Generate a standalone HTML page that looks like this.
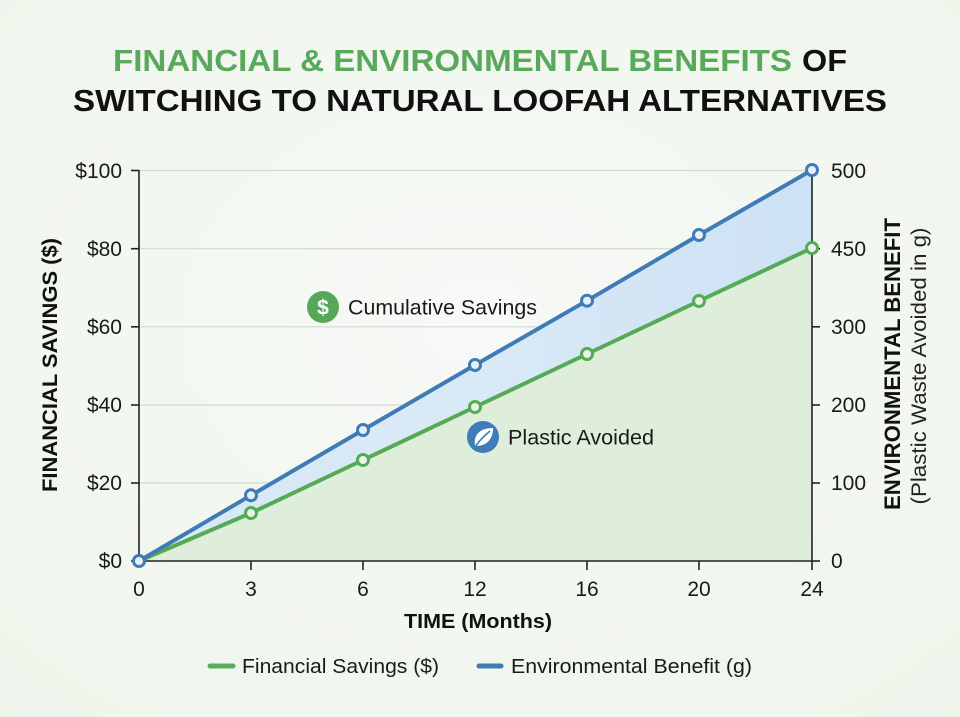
<!DOCTYPE html>
<html>
<head>
<meta charset="utf-8">
<style>
  html,body{margin:0;padding:0;background:#f4f8f2;}
  svg{display:block;}
  text{font-family:"Liberation Sans",Arial,sans-serif;}
</style>
</head>
<body>
<svg width="960" height="717" viewBox="0 0 960 717" xmlns="http://www.w3.org/2000/svg">
  <defs>
    <radialGradient id="bg" cx="50%" cy="45%" r="75%">
      <stop offset="0" stop-color="#f7f9f6"/>
      <stop offset="1" stop-color="#eef5eb"/>
    </radialGradient>
    <linearGradient id="bluefill" x1="0" y1="0" x2="1" y2="0">
      <stop offset="0" stop-color="#d8e8f5"/>
      <stop offset="0.5" stop-color="#d9e9f6"/>
      <stop offset="1" stop-color="#cde2f5"/>
    </linearGradient>
  </defs>
  <rect x="0" y="0" width="960" height="717" fill="url(#bg)"/>

  <!-- Title -->
  <text x="113" y="71" font-size="31" font-weight="bold" fill="#5aa85c" textLength="679" lengthAdjust="spacingAndGlyphs">FINANCIAL &amp; ENVIRONMENTAL BENEFITS</text>
  <text x="802" y="71" font-size="31" font-weight="bold" fill="#111" textLength="45" lengthAdjust="spacingAndGlyphs">OF</text>
  <text x="73" y="111" font-size="31" font-weight="bold" fill="#111" textLength="814" lengthAdjust="spacingAndGlyphs">SWITCHING TO NATURAL LOOFAH ALTERNATIVES</text>

  <!-- Gridlines -->
  <g stroke="#d3d8d1" stroke-width="1.2">
    <line x1="139" y1="170.5" x2="812" y2="170.5"/>
    <line x1="139" y1="248.7" x2="812" y2="248.7"/>
    <line x1="139" y1="326.8" x2="812" y2="326.8"/>
    <line x1="139" y1="405" x2="812" y2="405"/>
    <line x1="139" y1="483" x2="812" y2="483"/>
  </g>

  <!-- Fills -->
  <polygon fill="url(#bluefill)" points="139,561 251,495.3 363,430 475,365 587,300.7 699,235 812,170 812,248 699,301 587,354 475,407 363,460 251,513"/>
  <polygon fill="#dfeedb" points="139,561 251,513 363,460 475,407 587,354 699,301 812,248 812,561"/>

  <!-- Axes -->
  <g stroke="#222" stroke-width="1.6">
    <line x1="139" y1="170" x2="139" y2="561"/>
    <line x1="812" y1="170" x2="812" y2="561"/>
    <line x1="139" y1="561" x2="812" y2="561"/>
    <line x1="131" y1="170.5" x2="139" y2="170.5"/>
    <line x1="131" y1="248.7" x2="139" y2="248.7"/>
    <line x1="131" y1="326.8" x2="139" y2="326.8"/>
    <line x1="131" y1="405" x2="139" y2="405"/>
    <line x1="131" y1="483" x2="139" y2="483"/>
    <line x1="131" y1="561" x2="139" y2="561"/>
    <line x1="812" y1="248.7" x2="820" y2="248.7"/>
    <line x1="812" y1="326.8" x2="820" y2="326.8"/>
    <line x1="812" y1="405" x2="820" y2="405"/>
    <line x1="812" y1="483" x2="820" y2="483"/>
    <line x1="812" y1="561" x2="820" y2="561"/>
    <line x1="251" y1="561" x2="251" y2="570"/>
    <line x1="363" y1="561" x2="363" y2="570"/>
    <line x1="475" y1="561" x2="475" y2="570"/>
    <line x1="587" y1="561" x2="587" y2="570"/>
    <line x1="699" y1="561" x2="699" y2="570"/>
    <line x1="812" y1="561" x2="812" y2="570"/>
  </g>

  <!-- Left tick labels -->
  <g font-size="21" fill="#1a1a1a" text-anchor="end">
    <text x="122" y="178">$100</text>
    <text x="122" y="256">$80</text>
    <text x="122" y="334">$60</text>
    <text x="122" y="412">$40</text>
    <text x="122" y="490">$20</text>
    <text x="122" y="568">$0</text>
  </g>
  <!-- Right tick labels -->
  <g font-size="21" fill="#1a1a1a">
    <text x="831" y="178">500</text>
    <text x="831" y="256">450</text>
    <text x="831" y="334">300</text>
    <text x="831" y="412">200</text>
    <text x="831" y="490">100</text>
    <text x="831" y="568">0</text>
  </g>
  <!-- X tick labels -->
  <g font-size="21" fill="#1a1a1a" text-anchor="middle">
    <text x="139" y="596">0</text>
    <text x="251" y="596">3</text>
    <text x="363" y="596">6</text>
    <text x="475" y="596">12</text>
    <text x="587" y="596">16</text>
    <text x="699" y="596">20</text>
    <text x="812" y="596">24</text>
  </g>

  <!-- Axis titles -->
  <text transform="translate(57,365) rotate(-90)" text-anchor="middle" font-size="21" font-weight="bold" fill="#111" textLength="254" lengthAdjust="spacingAndGlyphs">FINANCIAL SAVINGS ($)</text>
  <text transform="translate(900,364) rotate(-90)" text-anchor="middle" font-size="22" font-weight="bold" fill="#111" textLength="292" lengthAdjust="spacingAndGlyphs">ENVIRONMENTAL BENEFIT</text>
  <text transform="translate(926,366) rotate(-90)" text-anchor="middle" font-size="21" fill="#222" textLength="277" lengthAdjust="spacingAndGlyphs">(Plastic Waste Avoided in g)</text>
  <text x="478" y="628" text-anchor="middle" font-size="20" font-weight="bold" fill="#111" textLength="148" lengthAdjust="spacingAndGlyphs">TIME (Months)</text>

  <!-- Lines -->
  <polyline fill="none" stroke="#55ab55" stroke-width="4" stroke-linejoin="round" points="139,561 251,513 363,460 475,407 587,354 699,301 812,248"/>
  <polyline fill="none" stroke="#3f7bb5" stroke-width="4" stroke-linejoin="round" points="139,561 251,495.3 363,430 475,365 587,300.7 699,235 812,170"/>

  <!-- Markers -->
  <g fill="#e9f3e6" stroke="#55ab55" stroke-width="3">
    <circle cx="251" cy="513" r="5.5"/>
    <circle cx="363" cy="460" r="5.5"/>
    <circle cx="475" cy="407" r="5.5"/>
    <circle cx="587" cy="354" r="5.5"/>
    <circle cx="699" cy="301" r="5.5"/>
    <circle cx="812" cy="248" r="5.5"/>
  </g>
  <g fill="#e6f0f9" stroke="#3f7bb5" stroke-width="3">
    <circle cx="139" cy="561" r="5.5"/>
    <circle cx="251" cy="495.3" r="5.5"/>
    <circle cx="363" cy="430" r="5.5"/>
    <circle cx="475" cy="365" r="5.5"/>
    <circle cx="587" cy="300.7" r="5.5"/>
    <circle cx="699" cy="235" r="5.5"/>
    <circle cx="812" cy="170" r="5.5"/>
  </g>

  <!-- Annotations -->
  <circle cx="323" cy="307" r="16" fill="#55a857"/>
  <text x="323" y="314.5" text-anchor="middle" font-size="21" font-weight="bold" fill="#fff">$</text>
  <text x="348" y="314.5" font-size="21" fill="#1a1a1a" textLength="189" lengthAdjust="spacingAndGlyphs">Cumulative Savings</text>

  <circle cx="483" cy="437" r="16" fill="#3f7cb8"/>
  <path d="M475,446 C473,434 481,428 493,428 C493,440 486,446 476,446 Z" fill="#fff"/>
  <path d="M475,447 C479,441 484,436 490,431" stroke="#3f7cb8" stroke-width="1.6" fill="none"/>
  <text x="508" y="444.5" font-size="21" fill="#1a1a1a" textLength="146" lengthAdjust="spacingAndGlyphs">Plastic Avoided</text>

  <!-- Legend -->
  <line x1="210" y1="666" x2="233" y2="666" stroke="#5aae5a" stroke-width="5" stroke-linecap="round"/>
  <text x="242" y="673" font-size="20" fill="#1a1a1a" textLength="197" lengthAdjust="spacingAndGlyphs">Financial Savings ($)</text>
  <line x1="479" y1="666" x2="501" y2="666" stroke="#3f7bb5" stroke-width="5" stroke-linecap="round"/>
  <text x="511" y="673" font-size="20" fill="#1a1a1a" textLength="241" lengthAdjust="spacingAndGlyphs">Environmental Benefit (g)</text>
</svg>
</body>
</html>
